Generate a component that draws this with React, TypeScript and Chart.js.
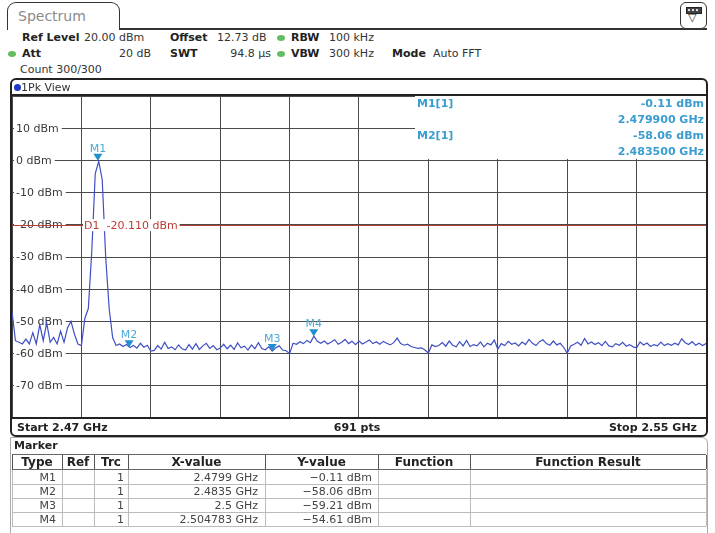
import React, { useEffect, useRef } from "react";
import { Chart, registerables } from "chart.js";

Chart.register(...registerables);

// ---- data ----
const START_GHZ = 2.47;
const STOP_GHZ = 2.55;
const SAMPLE_STEP_GHZ = 0.0004;
const X_DIVISIONS = 10;
const REF_LEVEL_DBM = 20;
const BOTTOM_LEVEL_DBM = -80;
const Y_STEP_DB = 10;
const Y_LABELS = [10, 0, -10, -20, -30, -40, -50, -60, -70];
const D1_LEVEL_DBM = -20.11;

// trace levels (dBm), one per sweep sample from START_GHZ in SAMPLE_STEP_GHZ steps
const LEVELS_DBM = [
  -47, -56, -56.5, -57, -55.5, -57, -53.5, -57, -51, -56, -50.5, -56.5, -55, -57, -53, -56.5, -52, -50, -54, -57, -57.5, -49,
  -46, -28, -4, -0.3, -6, -30, -46, -55,
  -57.5, -57, -57.8, -57.2, -58.1, -57.5, -58.3, -56.8, -58, -57.4,
  -59.2, -59, -57.5, -58.6, -56.5, -58.4, -57.9, -58.8, -57.3, -58.5,
  -58.9, -57.2, -58.6, -56.9, -58.7, -57.6, -56.8, -58.4, -57.5, -58.8,
  -58.3, -57.1, -58.5, -57.4, -58.7, -56.7, -58.2, -57.7, -58.9, -57.3,
  -58.5, -56.6, -58.4, -58.8, -57.9, -59.21, -58.2, -57.6, -58.9, -59.1,
  -60, -56.8, -57.1, -56.3, -56.9, -55.9, -56.6, -54.61, -56.2, -56.8,
  -56.1, -57, -56.4, -55.7, -57.1, -56.5, -55.6, -56.9, -56.2, -57.2,
  -56.1, -57, -56.4, -55.8, -56.9, -56.3, -57.1, -56.2, -56.8, -57.3,
  -56.6, -55.2, -56.9, -57.4, -57.1, -57.8, -58.1, -58.4, -58.2, -58.9,
  -59.8, -57.3, -57.8, -57.5, -56.6, -57.7, -56.1, -57.4, -57.9, -56.3,
  -57.6, -55.9, -57.8, -57.2, -57.6, -56.4, -57.9, -56.8, -57.3, -55.8,
  -58.6, -56.9, -57.5, -56.2, -57.1, -56.7, -57.6, -56.4, -57.2, -55.6,
  -56.8, -57.5, -56.3, -55.7, -56.9, -57.4, -56.1, -57.3, -56.8, -58.1,
  -59.9, -57.6, -57.1, -56.5, -57.4, -55.3, -57, -56.4, -57.2, -56.6,
  -57.5, -56.2, -57.6, -57.9, -56.9, -57.4, -56.5, -57.7, -57.2, -57.9,
  -58.2, -56.4, -57.3, -56.7, -57.8, -57.2, -57.6, -56.4, -57.5, -56.9,
  -57.4, -56.8, -57.3, -55.4, -56.6, -57.2, -56.3, -57.4, -56.8, -57.5,
  -56.9,
];

const MARKER_NAMES = ["M1", "M2", "M3", "M4"];
const MARKER_FREQS_GHZ = [2.4799, 2.4835, 2.5, 2.504783];
const MARKER_LEVELS_DBM = [-0.11, -58.06, -59.21, -54.61];
const MARKER_X_TEXT = ["2.4799 GHz", "2.4835 GHz", "2.5 GHz", "2.504783 GHz"];
const MARKER_Y_TEXT = ["\u22120.11 dBm", "\u221258.06 dBm", "\u221259.21 dBm", "\u221254.61 dBm"];
const INFO_LINES = [
  ["M1[1]", "-0.11 dBm"],
  ["", "2.479900 GHz"],
  ["M2[1]", "-58.06 dBm"],
  ["", "2.483500 GHz"],
];

const FONT = "'DejaVu Sans', Verdana, sans-serif";
const GRID_COLOR = "#4a4a4a";
const TRACE_COLOR = "#3f4fc4";
const MARKER_COLOR = "#1f8fd0";
const MARKER_TEXT = "#4fa9d6";
const INFO_COLOR = "#3b9cd0";
const D1_COLOR = "#bf3b36";

const overlayPlugin = {
  id: "saOverlay",
  beforeDatasetsDraw(chart: any) {
    const { ctx, chartArea: a, scales } = chart;
    const y = scales.y;
    ctx.save();
    ctx.font = `11px ${FONT}`;
    ctx.textBaseline = "middle";
    Y_LABELS.forEach((v) => {
      const py = y.getPixelForValue(v);
      const txt = `${v} dBm`;
      const w = ctx.measureText(txt).width;
      ctx.fillStyle = "#fff";
      ctx.fillRect(a.left + 2, py - 6, w + 5, 12);
      ctx.fillStyle = "#3a3a3a";
      ctx.fillText(txt, a.left + 4, py + 0.5);
    });
    const dy = Math.round(y.getPixelForValue(D1_LEVEL_DBM)) + 0.5;
    ctx.strokeStyle = D1_COLOR;
    ctx.lineWidth = 1;
    ctx.beginPath();
    ctx.moveTo(a.left, dy);
    ctx.lineTo(a.right, dy);
    ctx.stroke();
    ctx.restore();
  },
  afterDatasetsDraw(chart: any) {
    const { ctx, chartArea: a, scales } = chart;
    const x = scales.x;
    const y = scales.y;
    ctx.save();
    // D1 label
    ctx.font = `11px ${FONT}`;
    ctx.textBaseline = "middle";
    const d1 = "D1  -20.110 dBm";
    const dy = y.getPixelForValue(D1_LEVEL_DBM);
    const dw = ctx.measureText(d1).width;
    ctx.fillStyle = "#fff";
    ctx.fillRect(a.left + 71, dy - 6, dw + 3, 12);
    ctx.fillStyle = D1_COLOR;
    ctx.fillText(d1, a.left + 72, dy + 0.5);
    // markers
    MARKER_NAMES.forEach((name, i) => {
      const px = x.getPixelForValue(MARKER_FREQS_GHZ[i]);
      const py = y.getPixelForValue(MARKER_LEVELS_DBM[i]);
      ctx.fillStyle = MARKER_COLOR;
      ctx.beginPath();
      ctx.moveTo(px, py);
      ctx.lineTo(px - 4.5, py - 7);
      ctx.lineTo(px + 4.5, py - 7);
      ctx.closePath();
      ctx.fill();
      ctx.fillStyle = MARKER_TEXT;
      ctx.textAlign = "center";
      ctx.textBaseline = "alphabetic";
      ctx.fillText(name, px, py - 9);
    });
    // info box
    const boxLeft = a.left + 403;
    const boxBottom = y.getPixelForValue(0) - 1.5;
    ctx.fillStyle = "#fff";
    ctx.fillRect(boxLeft, a.top, a.right - boxLeft, boxBottom - a.top);
    ctx.font = `bold 11px ${FONT}`;
    ctx.fillStyle = INFO_COLOR;
    ctx.textBaseline = "middle";
    INFO_LINES.forEach((ln, i) => {
      const ty = a.top + 8 + i * 16;
      if (ln[0]) {
        ctx.textAlign = "left";
        ctx.fillText(ln[0], boxLeft + 2, ty);
      }
      ctx.textAlign = "right";
      ctx.fillText(ln[1], a.right - 2, ty);
    });
    ctx.restore();
  },
};

function SpectrumChart() {
  const ref = useRef<HTMLCanvasElement>(null);
  useEffect(() => {
    if (!ref.current) return;
    const points = LEVELS_DBM.map((v, i) => ({ x: START_GHZ + i * SAMPLE_STEP_GHZ, y: v }));
    const gridFreqs: number[] = [];
    for (let k = 0; k <= X_DIVISIONS; k++) gridFreqs.push(START_GHZ + ((STOP_GHZ - START_GHZ) * k) / X_DIVISIONS);
    const chart = new Chart(ref.current, {
      type: "line",
      data: {
        datasets: [
          {
            data: points,
            borderColor: TRACE_COLOR,
            borderWidth: 1.2,
            pointRadius: 0,
            tension: 0,
          },
        ],
      },
      options: {
        animation: false,
        responsive: false,
        devicePixelRatio: 1,
        layout: { padding: 0 },
        plugins: { legend: { display: false }, tooltip: { enabled: false } },
        scales: {
          x: {
            type: "linear",
            min: START_GHZ,
            max: STOP_GHZ,
            afterBuildTicks: (s: any) => {
              s.ticks = gridFreqs.map((v) => ({ value: v }));
            },
            ticks: { display: false },
            grid: { color: GRID_COLOR, drawTicks: false, lineWidth: 1 },
            border: { display: false },
          },
          y: {
            type: "linear",
            min: BOTTOM_LEVEL_DBM,
            max: REF_LEVEL_DBM,
            ticks: { display: false, stepSize: Y_STEP_DB },
            grid: { color: GRID_COLOR, drawTicks: false, lineWidth: 1 },
            border: { display: false },
          },
        },
      } as any,
      plugins: [overlayPlugin],
    });
    return () => chart.destroy();
  }, []);
  return (
    <canvas
      ref={ref}
      width={694}
      height={322}
      style={{ position: "absolute", left: 12, top: 96, width: 694, height: 322 }}
    />
  );
}

const abs = (left: number, top: number, extra: React.CSSProperties = {}): React.CSSProperties => ({
  position: "absolute",
  left,
  top,
  whiteSpace: "nowrap",
  ...extra,
});

const Dot = ({ left, top, color }: { left: number; top: number; color: string }) => (
  <div style={abs(left, top, { width: 8, height: 6, borderRadius: "50%", background: color })} />
);

const COLS = [12, 62, 94, 128, 265, 378, 470, 706];
const HEADERS = ["Type", "Ref", "Trc", "X-value", "Y-value", "Function", "Function Result"];

export default function App() {
  const bold: React.CSSProperties = { fontWeight: "bold", color: "#222" };
  const reg: React.CSSProperties = { color: "#333" };
  const rowTop = [470, 484, 498, 512];
  return (
    <div
      style={{
        position: "absolute",
        left: 0,
        top: 0,
        width: 715,
        height: 533,
        background: "#fff",
        fontFamily: FONT,
        fontSize: 11,
        lineHeight: "13px",
        overflow: "hidden",
      }}
    >
      {/* tab */}
      <div
        style={abs(7, 2, {
          width: 113,
          height: 28,
          border: "1.5px solid #333",
          borderBottom: "none",
          borderRadius: "9px 9px 0 0",
          boxSizing: "border-box",
        })}
      />
      <div style={abs(18, 8, { fontSize: 14, lineHeight: "16px", color: "#8a8a8a" })}>Spectrum</div>
      <div style={abs(119, 28, { width: 588, height: 1.5, background: "#333" })} />
      {/* icon */}
      <div
        style={abs(680, 2, {
          width: 27,
          height: 27,
          border: "1.5px solid #333",
          borderRadius: 6,
          boxSizing: "border-box",
          background: "#fff",
        })}
      />
      <div style={abs(686, 7, { width: 14, height: 5, background: "#444", border: "1px solid #222" })} />
      <div style={abs(688, 9, { width: 2, height: 2, background: "#ddd" })} />
      <div style={abs(692, 9, { width: 2, height: 2, background: "#ddd" })} />
      <div style={abs(696, 9, { width: 2, height: 2, background: "#ddd" })} />
      <div style={abs(688, 12, { fontSize: 11, lineHeight: "12px", color: "#333" })}>{"\u25BD"}</div>

      {/* header rows */}
      <div style={abs(22, 31, bold)}>Ref Level</div>
      <div style={abs(84, 31, reg)}>20.00 dBm</div>
      <div style={abs(170, 31, bold)}>Offset</div>
      <div style={abs(217, 31, reg)}>12.73 dB</div>
      <Dot left={277} top={35} color="#62bd62" />
      <div style={abs(291, 31, bold)}>RBW</div>
      <div style={abs(329, 31, reg)}>100 kHz</div>

      <Dot left={8} top={51} color="#62bd62" />
      <div style={abs(22, 47, bold)}>Att</div>
      <div style={abs(100, 47, { ...reg, width: 51, textAlign: "right" })}>20 dB</div>
      <div style={abs(170, 47, bold)}>SWT</div>
      <div style={abs(210, 47, { ...reg, width: 61, textAlign: "right" })}>94.8 µs</div>
      <Dot left={277} top={51} color="#62bd62" />
      <div style={abs(291, 47, bold)}>VBW</div>
      <div style={abs(329, 47, reg)}>300 kHz</div>
      <div style={abs(392, 47, bold)}>Mode</div>
      <div style={abs(433, 47, reg)}>Auto FFT</div>

      <div style={abs(20, 63, reg)}>Count 300/300</div>

      {/* chart */}
      <SpectrumChart />

      {/* frame */}
      <div
        style={abs(10, 78, {
          width: 698,
          height: 359,
          border: "2px solid #222",
          borderRadius: 6,
          boxSizing: "border-box",
        })}
      />
      <div style={abs(10, 94, { width: 698, height: 2, background: "#222" })} />
      <div style={abs(10, 417, { width: 698, height: 2, background: "#222" })} />
      <div style={abs(14, 84, { width: 7, height: 7, borderRadius: "50%", background: "#2038c8" })} />
      <div style={abs(21, 81, reg)}>1Pk View</div>
      <div style={abs(17, 421, bold)}>Start 2.47 GHz</div>
      <div style={abs(300, 421, { ...bold, width: 114, textAlign: "center" })}>691 pts</div>
      <div style={abs(560, 421, { ...bold, width: 137, textAlign: "right" })}>Stop 2.55 GHz</div>

      {/* marker table */}
      <div
        style={abs(10, 437, {
          width: 698,
          height: 100,
          border: "1px solid #aaa",
          borderRadius: "0 6px 0 0",
          boxSizing: "border-box",
        })}
      />
      <div style={abs(14, 439, bold)}>Marker</div>
      <div style={abs(12, 454, { width: 694, height: 1, background: "#666" })} />
      <div style={abs(12, 469, { width: 694, height: 1, background: "#666" })} />
      {rowTop.map((t, i) => (
        <div key={"rl" + i} style={abs(12, t + 14, { width: 694, height: 1, background: "#bbb" })} />
      ))}
      {COLS.map((c, i) => (
        <React.Fragment key={"cl" + i}>
          <div style={abs(c, 455, { width: 1, height: 14, background: "#555" })} />
          <div style={abs(c, 470, { width: 1, height: 56, background: "#bbb" })} />
        </React.Fragment>
      ))}
      {HEADERS.map((h, i) => (
        <div
          key={"h" + i}
          style={abs(COLS[i], 455, {
            width: COLS[i + 1] - COLS[i],
            textAlign: "center",
            fontWeight: "bold",
            fontSize: 12,
            lineHeight: "15px",
            color: "#222",
          })}
        >
          {h}
        </div>
      ))}
      {MARKER_NAMES.map((m, i) => (
        <React.Fragment key={"r" + i}>
          <div style={abs(COLS[0], rowTop[i] + 1, { width: 44, textAlign: "right", color: "#444" })}>{m}</div>
          <div style={abs(COLS[2], rowTop[i] + 1, { width: 30, textAlign: "right", color: "#444" })}>1</div>
          <div style={abs(COLS[3], rowTop[i] + 1, { width: 130, textAlign: "right", color: "#444" })}>
            {MARKER_X_TEXT[i]}
          </div>
          <div style={abs(COLS[4], rowTop[i] + 1, { width: 107, textAlign: "right", color: "#444" })}>
            {MARKER_Y_TEXT[i]}
          </div>
        </React.Fragment>
      ))}
    </div>
  );
}
